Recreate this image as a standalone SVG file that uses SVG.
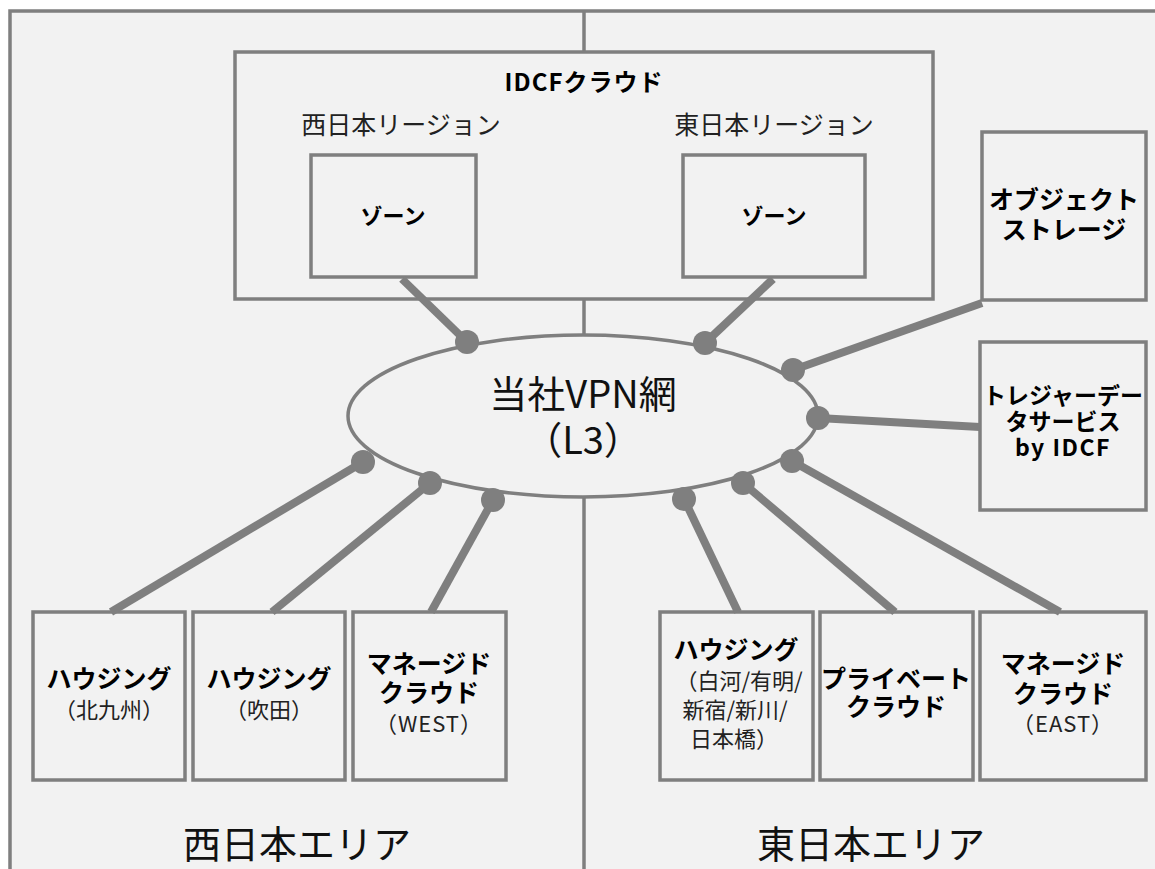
<svg xmlns="http://www.w3.org/2000/svg" width="1155" height="869" viewBox="0 0 1155 869">
<style>
.box{fill:#f2f2f2;stroke:#7f7f7f;stroke-width:3.5}
.t{font-family:"Noto Sans CJK JP","Noto Sans",sans-serif;fill:#000;text-anchor:middle;dominant-baseline:central}
.b{font-weight:bold;font-size:25px}
.r{font-size:22px;fill:#222}
.reg{font-size:25px;fill:#222}
.big{font-size:38px;fill:#111}
.con line{stroke:#7f7f7f;stroke-width:8}
.con circle{fill:#7f7f7f}
</style>
<rect x="10" y="11" width="1160" height="880" fill="#f2f2f2" stroke="#7f7f7f" stroke-width="3.5"/>
<line x1="584" y1="11" x2="584" y2="869" stroke="#7f7f7f" stroke-width="3.5"/>
<text class="t big" x="297" y="841">西日本エリア</text>
<text class="t big" x="871" y="841">東日本エリア</text>
<g id="idcf">
<rect class="box" x="235" y="52" width="698" height="247"/>
<text class="t b" x="584" y="80" style="font-size:24px;letter-spacing:1px">IDCFクラウド</text>
<text class="t reg" x="401" y="123">西日本リージョン</text>
<text class="t reg" x="774" y="123">東日本リージョン</text>
</g>
<g id="zone-west">
<rect class="box" x="311" y="155" width="165" height="122"/>
<text class="t b" x="393" y="214" style="font-size:22px">ゾーン</text>
</g>
<g id="zone-east">
<rect class="box" x="683" y="155" width="182" height="122"/>
<text class="t b" x="774" y="214" style="font-size:22px">ゾーン</text>
</g>
<g id="vpn">
<ellipse cx="583" cy="416" rx="235" ry="81" fill="#f2f2f2" stroke="#7f7f7f" stroke-width="3.5"/>
<text class="t big" x="583" y="391">当社VPN網</text>
<text class="t big" x="583" y="437">（L3）</text>
</g>
<g id="object-storage">
<rect class="box" x="982" y="132" width="164" height="168"/>
<text class="t b" x="1064" y="198">オブジェクト</text>
<text class="t b" x="1064" y="228">ストレージ</text>
</g>
<g id="treasure-data">
<rect class="box" x="980" y="342" width="166" height="168"/>
<text class="t b" x="1063" y="394" style="font-size:23px">トレジャーデー</text>
<text class="t b" x="1063" y="420" style="font-size:23px">タサービス</text>
<text class="t b" x="1063" y="446" style="font-size:23px;letter-spacing:1.5px">by IDCF</text>
</g>
<g id="housing-kitakyushu">
<rect class="box" x="33" y="612" width="152" height="168"/>
<text class="t b" x="109" y="677">ハウジング</text>
<text class="t r" x="109" y="708">（北九州）</text>
</g>
<g id="housing-suita">
<rect class="box" x="193" y="612" width="152" height="168"/>
<text class="t b" x="269" y="677">ハウジング</text>
<text class="t r" x="269" y="708">（吹田）</text>
</g>
<g id="managed-west">
<rect class="box" x="353" y="612" width="153" height="168"/>
<text class="t b" x="429" y="662">マネージド</text>
<text class="t b" x="429" y="691">クラウド</text>
<text class="t r" x="429" y="722" style="letter-spacing:1px">（WEST）</text>
</g>
<g id="housing-east">
<rect class="box" x="660" y="612" width="153" height="168"/>
<text class="t b" x="736" y="648">ハウジング</text>
<text class="t r" x="739" y="679">（白河/有明/</text>
<text class="t r" x="735" y="708">新宿/新川/</text>
<text class="t r" x="734" y="737">日本橋）</text>
</g>
<g id="private-cloud">
<rect class="box" x="820" y="612" width="153" height="168"/>
<text class="t b" x="896" y="677">プライベート</text>
<text class="t b" x="896" y="705">クラウド</text>
</g>
<g id="managed-east">
<rect class="box" x="980" y="612" width="166" height="168"/>
<text class="t b" x="1063" y="662">マネージド</text>
<text class="t b" x="1063" y="692">クラウド</text>
<text class="t r" x="1063" y="722" style="letter-spacing:1px">（EAST）</text>
</g>
<g id="connectors" class="con">
<line x1="402" y1="279" x2="467" y2="342"/>
<line x1="773" y1="279" x2="705" y2="343"/>
<line x1="982" y1="303" x2="793" y2="370"/>
<line x1="980" y1="427" x2="818" y2="418"/>
<line x1="111" y1="612" x2="363" y2="462"/>
<line x1="272" y1="612" x2="430" y2="483"/>
<line x1="431" y1="612" x2="493" y2="500"/>
<line x1="738" y1="612" x2="684" y2="499"/>
<line x1="895" y1="612" x2="743" y2="483"/>
<line x1="1060" y1="612" x2="792" y2="461"/>
<circle cx="467" cy="342" r="12"/>
<circle cx="705" cy="343" r="12"/>
<circle cx="793" cy="370" r="12"/>
<circle cx="818" cy="418" r="12"/>
<circle cx="363" cy="462" r="12"/>
<circle cx="430" cy="483" r="12"/>
<circle cx="493" cy="500" r="12"/>
<circle cx="684" cy="499" r="12"/>
<circle cx="743" cy="483" r="12"/>
<circle cx="792" cy="461" r="12"/>
</g>
</svg>
